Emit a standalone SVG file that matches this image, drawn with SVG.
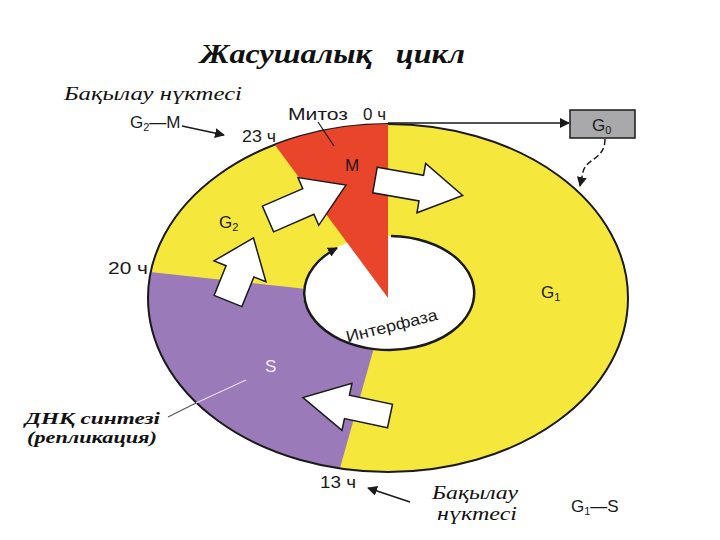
<svg xmlns="http://www.w3.org/2000/svg" width="720" height="540" viewBox="0 0 720 540">
<style>
.sans{font-family:"Liberation Sans",Arial,sans-serif;fill:#1a1a1a}
.ser{font-family:"Liberation Serif","Times New Roman",serif;font-style:italic;fill:#111}
.blk{fill:#fff;stroke:#1a1a1a;stroke-width:1.5;stroke-linejoin:miter}
.ln{stroke:#1a1a1a;stroke-width:1.5;fill:none}
</style>
<defs>
<marker id="ah2" viewBox="0 0 10 10" refX="9" refY="5" markerWidth="10" markerHeight="10" orient="auto" markerUnits="userSpaceOnUse">
<path d="M0,0 L10,5 L0,10 z" fill="#1a1a1a"/>
</marker>
</defs>
<rect width="720" height="540" fill="#fff"/>

<g id="cycle-ring">
<ellipse cx="388" cy="298" rx="240" ry="174" fill="#f6e73c"/>
<path id="S-phase" d="M388,298 L150,272 A240,174 0 0 0 340,468 Z" fill="#9a7ab8"/>
<ellipse cx="388" cy="298" rx="240" ry="174" fill="none" stroke="#1a1a1a" stroke-width="2"/>
<ellipse id="interphase-hole" cx="388" cy="293" rx="85" ry="57" fill="#fff"/>
<path id="M-phase" d="M388,298 L275,145 A240,174 0 0 1 388,124 Z" fill="#e9452b"/>
</g>

<g id="connectors">
<line x1="388" y1="123" x2="569" y2="123" class="ln" marker-end="url(#ah2)"/>
<path d="M605,139 C605,160 586,158 583,172 L580,186" class="ln" stroke-dasharray="6,3" marker-end="url(#ah2)"/>
<path d="M391,236 A85,57 0 1 1 337,248" fill="none" stroke="#1a1a1a" stroke-width="2.5" marker-end="url(#ah2)"/>
<line x1="182" y1="126" x2="224" y2="135" class="ln" marker-end="url(#ah2)"/>
<line x1="410" y1="502" x2="368" y2="488" class="ln" marker-end="url(#ah2)"/>
<line x1="318" y1="122" x2="334" y2="146" stroke="#1a1a1a" stroke-width="1.2"/>
<line x1="168" y1="417" x2="196" y2="403" stroke="#555" stroke-width="1.2"/>
<line x1="196" y1="403" x2="246" y2="380" stroke="#e6def0" stroke-width="1.2"/>
</g>

<g id="flow-arrows">
<path class="blk" d="M0,-15 L32,-15 L32,-28 L68,0 L32,28 L32,15 L0,15 Z" transform="translate(228,301) rotate(-68)"/>
<path class="blk" d="M0,-14 L44,-14 L44,-26 L85,0 L44,26 L44,14 L0,14 Z" transform="translate(268,219) rotate(-23.5)"/>
<path class="blk" d="M0,-13 L47,-13 L47,-25 L89,0 L47,25 L47,13 L0,13 Z" transform="translate(375,180) rotate(10)"/>
<path class="blk" d="M0,-12 L44,-12 L44,-24 L89,0 L44,24 L44,12 L0,12 Z" transform="translate(390,416) rotate(192)"/>
</g>

<g id="G0">
<rect x="570" y="110" width="65" height="28" fill="#a9a9ab" stroke="#1a1a1a" stroke-width="1.5"/>
<text x="592" y="131" class="sans" font-size="17">G<tspan font-size="11" dy="3">0</tspan></text>
</g>

<g id="title">
<text x="200" y="63" class="ser" font-weight="bold" font-size="27" textLength="265" lengthAdjust="spacingAndGlyphs" xml:space="preserve">Жасушалық   цикл</text>
</g>

<g id="checkpoint-G2M">
<text x="64" y="100" class="ser" font-size="19" textLength="178" lengthAdjust="spacingAndGlyphs">Бақылау нүктесі</text>
<text x="130" y="128" class="sans" font-size="17">G<tspan font-size="11" dy="3">2</tspan><tspan dy="-3">—M</tspan></text>
</g>

<g id="labels">
<text x="288" y="120" class="sans" font-size="17" textLength="60" lengthAdjust="spacingAndGlyphs">Митоз</text>
<text x="363" y="120" class="sans" font-size="17" textLength="23" lengthAdjust="spacingAndGlyphs">0 ч</text>
<text x="242" y="142" class="sans" font-size="17" textLength="34" lengthAdjust="spacingAndGlyphs">23 ч</text>
<text x="345" y="171" class="sans" font-size="17">M</text>
<text x="219" y="228" class="sans" font-size="17">G<tspan font-size="11" dy="3">2</tspan></text>
<text x="108" y="274" class="sans" font-size="17" textLength="40" lengthAdjust="spacingAndGlyphs">20 ч</text>
<text x="541" y="298" class="sans" font-size="17">G<tspan font-size="11" dy="3">1</tspan></text>
<text x="265" y="372" class="sans" font-size="17" style="fill:#f3ecfa">S</text>
<text x="320" y="488" class="sans" font-size="17" textLength="36" lengthAdjust="spacingAndGlyphs">13 ч</text>
<text x="393" y="331" class="sans" font-size="16" text-anchor="middle" textLength="94" lengthAdjust="spacingAndGlyphs" transform="rotate(-14 393 331)">Интерфаза</text>
</g>

<g id="dna-synthesis">
<text x="25" y="424" class="ser" font-weight="bold" font-size="17" textLength="135" lengthAdjust="spacingAndGlyphs">ДНҚ синтезі</text>
<text x="27" y="443" class="ser" font-weight="bold" font-size="17" textLength="130" lengthAdjust="spacingAndGlyphs">(репликация)</text>
</g>

<g id="checkpoint-G1S">
<text x="432" y="499" class="ser" font-size="19" textLength="86" lengthAdjust="spacingAndGlyphs">Бақылау</text>
<text x="437" y="520" class="ser" font-size="19" textLength="80" lengthAdjust="spacingAndGlyphs">нүктесі</text>
<text x="571" y="512" class="sans" font-size="17">G<tspan font-size="11" dy="3">1</tspan><tspan dy="-3">—S</tspan></text>
</g>
</svg>
